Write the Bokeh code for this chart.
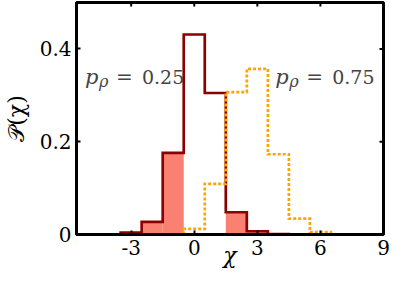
import math
from bokeh.plotting import figure
from bokeh.models import Label, FixedTicker, Range1d
from bokeh.embed import file_html
from bokeh.resources import INLINE

# ---- data ----
bins_a = [-3, -2, -1, 0, 1, 2, 3, 4]                    # bin centres, p_rho = 0.25
prob_a = [0.004, 0.027, 0.176, 0.431, 0.305, 0.048, 0.007, 0.001]
shade_a = [True, True, True, False, False, True, True, True]
bins_b = [0, 1, 2, 3, 4, 5, 6]                           # bin centres, p_rho = 0.75
prob_b = [0.012, 0.109, 0.307, 0.357, 0.173, 0.034, 0.005]
bin_width = 1.0
x_ticks = [-3, 0, 3, 6, 9]
x_tick_labels = ["-3", "0", "3", "6", "9"]
y_ticks = [0, 0.2, 0.4]
y_tick_labels = ["0", "0.2", "0.4"]
label_a = ("p", "ρ", "=", "0.25")
label_b = ("p", "ρ", "=", "0.75")

FONT = "DejaVu Serif"
DARK = "#8b0000"
ORANGE = "#ffa500"
SALMON = "#fa8072"
X0, X1, Y0, Y1 = -5.6, 9.0, 0.0, 0.5


def step_outline(centers, vals, w):
    xs = [centers[0] - w / 2]
    ys = [0.0]
    for c, v in zip(centers, vals):
        xs += [c - w / 2, c + w / 2]
        ys += [v, v]
    xs.append(centers[-1] + w / 2)
    ys.append(0.0)
    return xs, ys


p = figure(width=391, height=270, output_backend="svg", toolbar_location=None,
           x_range=Range1d(X0, X1), y_range=Range1d(Y0, Y1),
           min_border_left=63, min_border_right=8, min_border_top=2, min_border_bottom=34)
p.background_fill_color = "white"
p.border_fill_color = "white"
p.outline_line_color = "black"
p.outline_line_width = 3
p.grid.visible = False

lefts = [c - bin_width / 2 for c, s in zip(bins_a, shade_a) if s]
rights = [c + bin_width / 2 for c, s in zip(bins_a, shade_a) if s]
tops = [v for v, s in zip(prob_a, shade_a) if s]
p.quad(left=lefts, right=rights, bottom=0, top=tops, fill_color=SALMON, line_color=None)

xa, ya = step_outline(bins_a, prob_a, bin_width)
p.line(xa, ya, line_color=DARK, line_width=2.7, line_join="miter")
xb, yb = step_outline(bins_b, prob_b, bin_width)
p.line(xb, yb, line_color=ORANGE, line_width=2.7, line_dash="3 2", line_join="miter")

p.scatter(x=x_ticks[:-1], y=[Y1] * (len(x_ticks) - 1), marker="dash", size=8,
          angle=math.pi / 2, line_color="black", line_width=2)
p.scatter(x=[X1] * (len(y_ticks) - 1), y=y_ticks[1:], marker="dash", size=8,
          line_color="black", line_width=2)

for ax, ticks, labels in ((p.xaxis[0], x_ticks, x_tick_labels), (p.yaxis[0], y_ticks, y_tick_labels)):
    ax.ticker = FixedTicker(ticks=ticks)
    ax.axis_line_width = 3
    ax.axis_line_color = "black"
    ax.major_tick_in = 4
    ax.major_tick_out = 0
    ax.major_tick_line_width = 2
    ax.minor_tick_line_color = None
    ax.major_label_overrides = {t: l for t, l in zip(ticks, labels)}
    ax.major_label_text_font = FONT
    ax.major_label_text_font_size = "20px"
    ax.major_label_text_color = "black"
    ax.major_label_text_line_height = 0.9
    ax.major_label_standoff = 5
    ax.axis_label_text_font = FONT
    ax.axis_label_text_color = "black"
    ax.axis_label_text_line_height = 0.9

p.yaxis[0].axis_label = "𝒫(χ)"
p.yaxis[0].axis_label_text_font_style = "normal"
p.yaxis[0].axis_label_text_font_size = "22px"
p.yaxis[0].axis_label_standoff = 8

p.xaxis[0].axis_label = "χ"
p.xaxis[0].axis_label_text_font_style = "italic"
p.xaxis[0].axis_label_text_font_size = "22px"
p.xaxis[0].axis_label_standoff = -15


def add_plabel(x, y, parts):
    pp, sub, eq, num = parts
    p.add_layout(Label(x=x, y=y, text=pp, text_font=FONT, text_font_style="italic",
                       text_font_size="21px", text_baseline="alphabetic"))
    p.add_layout(Label(x=x, y=y, x_offset=14, y_offset=-5, text=sub, text_font=FONT,
                       text_font_style="italic", text_font_size="16px", text_baseline="alphabetic"))
    p.add_layout(Label(x=x, y=y, x_offset=31, text=eq, text_font=FONT,
                       text_font_size="20px", text_baseline="alphabetic"))
    p.add_layout(Label(x=x, y=y, x_offset=57, text=num, text_font=FONT,
                       text_font_size="19px", text_baseline="alphabetic"))

add_plabel(-5.2, 0.34, label_a)
add_plabel(3.85, 0.34, label_b)

open("out.html", "w").write(file_html(p, INLINE))
